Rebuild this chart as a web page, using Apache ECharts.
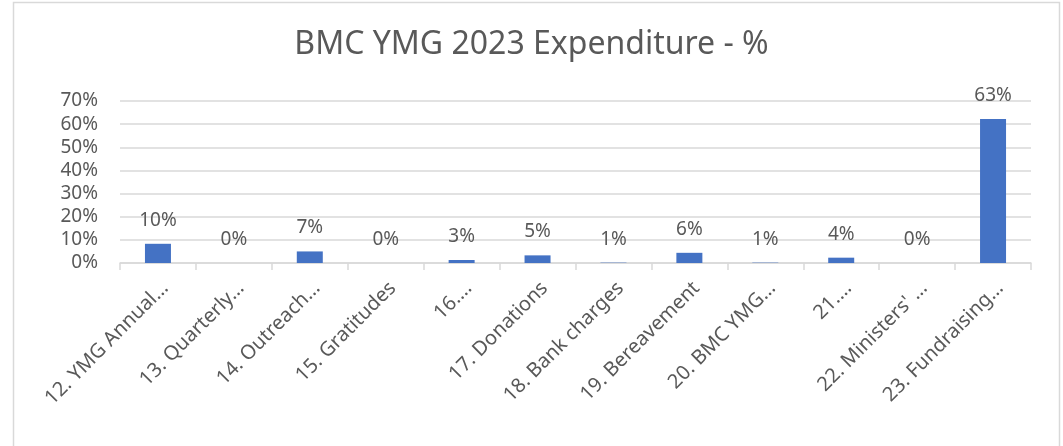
<!DOCTYPE html>
<html>
<head>
<meta charset="utf-8">
<script src="https://cdn.jsdelivr.net/npm/echarts@6/dist/echarts.min.js"></script>
<style>
    html, body { margin: 0; padding: 0; background: #fff; }
    #chart { width: 1063px; height: 446px; }
</style>
</head>
<body>
<div id="chart"></div>
<script>
// categories as shown (Excel truncated the long names)
var categories = ["12. YMG Annual…", "13. Quarterly…", "14. Outreach…", "15. Gratitudes",
    "16.…", "17. Donations", "18. Bank charges", "19. Bereavement",
    "20. BMC YMG…", "21.…", "22. Ministers' …", "23. Fundraising…"];
// bar heights (percent)
var values = [8.3, 0, 5.0, 0, 1.3, 3.3, 0.15, 4.4, 0.15, 2.3, 0, 62.2];
// data labels printed above each bar
var labels = ["10%", "0%", "7%", "0%", "3%", "5%", "1%", "6%", "1%", "4%", "0%", "63%"];
var yTicks = [0, 10, 20, 30, 40, 50, 60, 70];

var grey = "#595959";
var font = "'Noto Sans', 'DejaVu Sans', sans-serif";

var myChart = echarts.init(document.getElementById("chart"));
var option = {
    backgroundColor: "#fff",
    animation: false,
    textStyle: { fontFamily: font },
    title: {
        text: "BMC YMG 2023 Expenditure - %",
        left: "center",
        top: 24,
        textStyle: { fontSize: 32, fontWeight: "normal", color: grey, fontFamily: font }
    },
    graphic: [{
        type: "rect",
        shape: { x: 13.5, y: 2.5, width: 1046, height: 470 },
        style: { fill: "none", stroke: "#d9d9d9", lineWidth: 1.5 },
        silent: true
    }],
    grid: { left: 120, right: 32, top: 101, bottom: 183 },
    xAxis: {
        type: "category",
        data: categories,
        axisLine: { lineStyle: { color: "#d9d9d9", width: 1.5 } },
        axisTick: { show: true, length: 7, lineStyle: { color: "#d9d9d9", width: 1.5 } },
        axisLabel: {
            rotate: 45, interval: 0, margin: 15, verticalAlign: "top",
            fontSize: 20, color: grey, fontFamily: font
        }
    },
    yAxis: {
        type: "value",
        min: yTicks[0],
        max: yTicks[yTicks.length - 1],
        interval: 10,
        axisLine: { show: false },
        axisTick: { show: false },
        splitLine: { lineStyle: { color: "#d9d9d9", width: 1.5 } },
        axisLabel: { formatter: "{value}%", margin: 22, fontSize: 19, color: grey, fontFamily: font }
    },
    series: [{
        type: "bar",
        data: values,
        barWidth: 26,
        itemStyle: { color: "#4472C4" },
        label: {
            show: true,
            position: "top",
            distance: 14,
            fontSize: 19,
            color: grey,
            fontFamily: font,
            formatter: function (p) { return labels[p.dataIndex]; }
        }
    }]
};
myChart.setOption(option);
</script>
</body>
</html>
